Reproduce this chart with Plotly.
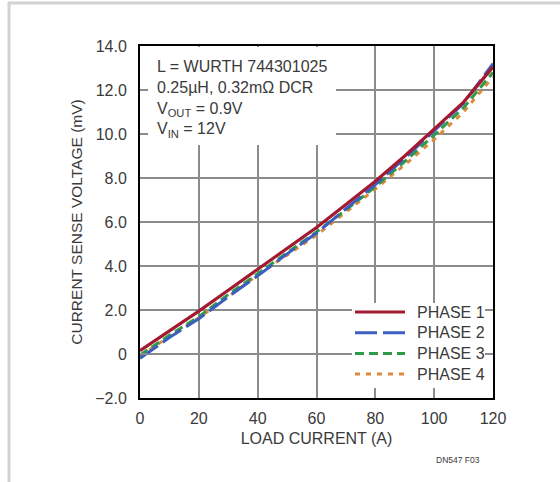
import plotly.graph_objects as go

load_current = [0, 10, 20, 30, 40, 50, 60, 70, 80, 90, 100, 110, 120]
phase1 = [0.15, 1.05, 1.95, 2.9, 3.85, 4.8, 5.75, 6.8, 7.85, 9.0, 10.25, 11.45, 13.05]
phase2 = [-0.2, 0.75, 1.6, 2.6, 3.55, 4.55, 5.5, 6.6, 7.7, 8.9, 10.15, 11.4, 13.2]
phase3 = [-0.05, 0.85, 1.7, 2.7, 3.65, 4.6, 5.55, 6.55, 7.6, 8.75, 9.95, 11.2, 12.8]
phase4 = [-0.1, 0.8, 1.65, 2.6, 3.6, 4.5, 5.4, 6.45, 7.5, 8.6, 9.75, 11.0, 12.6]

series_names = ["PHASE 1", "PHASE 2", "PHASE 3", "PHASE 4"]
x_ticks = [0, 20, 40, 60, 80, 100, 120]
y_ticks = [-2, 0, 2, 4, 6, 8, 10, 12, 14]
y_tick_labels = ["\u22122.0", "0", "2.0", "4.0", "6.0", "8.0", "10.0", "12.0", "14.0"]

FONT = "Liberation Sans, Arial, sans-serif"
TXT = "#3a3a3a"
GRID = "#8c8c8c"
FS = 16

styles = [
    dict(color="#a3192f", width=3.2, dash="solid"),
    dict(color="#3b5fbf", width=3, dash="22px,6px"),
    dict(color="#2f9a4a", width=3, dash="9px,5px"),
    dict(color="#dd8a3a", width=3, dash="5px,6px"),
]
all_series = [phase1, phase2, phase3, phase4]

fig = go.Figure()
for name, ys, st in reversed(list(zip(series_names, all_series, styles))):
    fig.add_trace(go.Scatter(x=load_current, y=ys, mode="lines", name=name,
                             line=st, showlegend=False))

W, H = 560, 482
ml, mr, mt, mb = 140, 67, 46, 84
pw, ph = W - ml - mr, H - mt - mb

def px_x(p):
    return (p - ml) / pw

def px_y(p):
    return 1 - (p - mt) / ph

shapes = [
    dict(type="line", xref="paper", yref="paper", x0=px_x(8), x1=px_x(W + 5), y0=px_y(3), y1=px_y(3),
         line=dict(color="#d2d2d2", width=3), layer="below"),
    dict(type="line", xref="paper", yref="paper", x0=px_x(9), x1=px_x(9), y0=px_y(2), y1=px_y(H + 5),
         line=dict(color="#d2d2d2", width=3), layer="below"),
    # white panels that hide the grid behind the text block and the key
    dict(type="rect", xref="paper", yref="paper", x0=px_x(148), x1=px_x(336), y0=px_y(47), y1=px_y(145),
         fillcolor="white", line=dict(width=0), layer="above"),
    dict(type="rect", xref="paper", yref="paper", x0=px_x(352), x1=px_x(485), y0=px_y(303), y1=px_y(388),
         fillcolor="white", line=dict(width=0), layer="above"),
]

# key (legend) drawn as sample lines + labels
key_y0, key_dy = 312, 20.7
for i, (name, st) in enumerate(zip(series_names, styles)):
    yy = px_y(key_y0 + i * key_dy)
    shapes.append(dict(type="line", xref="paper", yref="paper", x0=px_x(355), x1=px_x(405),
                       y0=yy, y1=yy, line=dict(color=st["color"], width=st["width"], dash=st["dash"]),
                       layer="above"))
    fig.add_annotation(xref="paper", yref="paper", x=px_x(415), y=yy, xanchor="left", yanchor="middle",
                       showarrow=False, text=name, font=dict(family=FONT, size=FS, color=TXT))

fig.add_annotation(
    xref="paper", yref="paper", x=px_x(155), y=px_y(56), xanchor="left", yanchor="top",
    align="left", showarrow=False,
    text="L = WURTH 744301025<br>0.25\u00b5H, 0.32m\u03a9 DCR<br>V<sub>OUT</sub> = 0.9V<br>V<sub>IN</sub> = 12V",
    font=dict(family=FONT, size=FS, color=TXT),
)
fig.add_annotation(
    xref="paper", yref="paper", x=px_x(482), y=px_y(460), xanchor="right", yanchor="middle",
    showarrow=False, text="DN547 F03", font=dict(family=FONT, size=8.5, color=TXT),
)

fig.update_layout(
    width=W, height=H,
    margin=dict(l=ml, r=mr, t=mt, b=mb),
    paper_bgcolor="white", plot_bgcolor="white",
    font=dict(family=FONT, size=FS, color=TXT),
    shapes=shapes,
    showlegend=False,
    xaxis=dict(range=[0, 120], tickvals=x_ticks, ticktext=[str(v) for v in x_ticks],
               showgrid=True, gridcolor=GRID, gridwidth=1.5, zeroline=False,
               showline=True, linecolor="black", linewidth=2, mirror=True,
               ticks="inside", ticklen=9, tickcolor=GRID, tickwidth=1.5,
               tickfont=dict(size=FS),
               title=dict(text="LOAD CURRENT (A)", standoff=7, font=dict(size=FS)), ticklabelstandoff=5),
    yaxis=dict(range=[-2, 14], tickvals=y_ticks, ticktext=y_tick_labels,
               showgrid=True, gridcolor=GRID, gridwidth=1.5, zeroline=False,
               showline=True, linecolor="black", linewidth=2, mirror="ticks",
               ticks="inside", ticklen=8, tickcolor=GRID, tickwidth=1.5,
               tickfont=dict(size=FS),
               title=dict(text="CURRENT SENSE VOLTAGE (mV)", standoff=9, font=dict(size=15.5)),
               ticklabelstandoff=8),
)

fig.write_html("out.html", config={"displayModeBar": False},
               post_script="document.body.style.margin='0';")
